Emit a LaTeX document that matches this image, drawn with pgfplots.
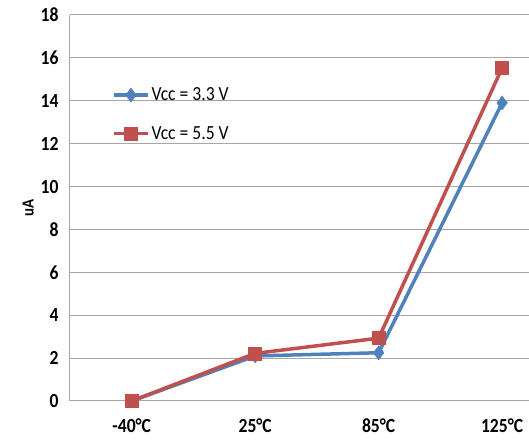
\documentclass[border=0pt]{standalone}
\usepackage{pgfplots}
\pgfplotsset{compat=1.18}
\usepackage{fontspec}
\setmainfont{Carlito}
\newfontfamily\narrowfont{Carlito}[FakeStretch=0.88]
\definecolor{xlblue}{HTML}{4F81BD}
\definecolor{xlred}{HTML}{C0504D}
\definecolor{gridgray}{HTML}{A6A6A6}

\begin{document}
\begin{tikzpicture}
\path[use as bounding box] (-70pt,-42pt) rectangle (459pt,401pt);
\begin{axis}[
    at={(0pt,0pt)}, anchor=south west,
    scale only axis,
    width=500pt, height=386pt,
    xmin=-0.5, xmax=3.55,
    ymin=0, ymax=18,
    ytick={0,2,...,18},
    xtick={0,1,2,3},
    xticklabels={-40\textdegree C, 25\textdegree C, 85\textdegree C, 125\textdegree C},
    axis x line=bottom, axis y line=left,
    axis line style={gridgray, line width=1pt, -},
    major tick length=0pt,
    ymajorgrids,
    grid style={gridgray, line width=1pt},
    ticklabel style={font=\narrowfont\fontsize{20}{22}\selectfont\bfseries},
    /pgf/number format/assume math mode=true,
    xticklabel style={yshift=-14pt},
    yticklabel style={xshift=-8pt},
    ylabel={uA},
    ylabel style={font=\narrowfont\fontsize{17}{19}\selectfont\bfseries, yshift=0pt},
    legend style={at={(rel axis cs:0.084,0.817)}, anchor=north west,
        draw=none, fill=none, font=\narrowfont\fontsize{20}{22}\selectfont,
        row sep=20pt, inner sep=0pt,
        /tikz/every even column/.append style={column sep=3pt}},
    legend cell align=left,
    legend image code/.code={
        \draw[#1, mark repeat=2, mark phase=2]
        plot coordinates {(0pt,0pt) (17pt,0pt) (34pt,0pt)};},
]
\addplot[xlblue, line width=3.5pt, mark=diamond*, mark size=7pt,
    mark options={solid, line width=0.5pt}]
    coordinates {(0,0) (1,2.1) (2,2.25) (3,13.9)};
\addlegendentry{Vcc = 3.3 V}
\addplot[xlred, line width=3.5pt, mark=square*, mark size=6.5pt,
    mark options={solid, line width=0.5pt}]
    coordinates {(0,0) (1,2.22) (2,2.93) (3,15.53)};
\addlegendentry{Vcc = 5.5 V}
\end{axis}
\end{tikzpicture}
\end{document}
